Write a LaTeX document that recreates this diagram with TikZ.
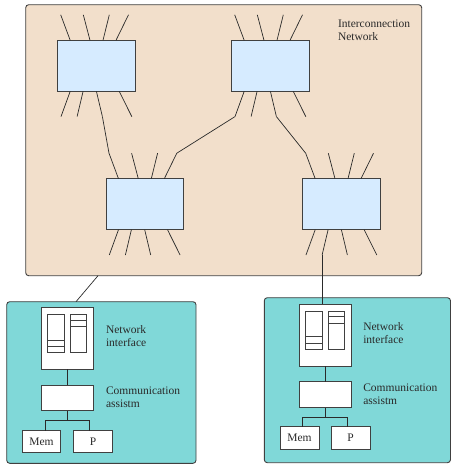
\documentclass[tikz,border=0pt]{standalone}
\usepackage{fontspec}
\setmainfont{Liberation Serif}
\definecolor{netfill}{HTML}{F2DFCB}
\definecolor{swfill}{HTML}{D6EBFF}
\definecolor{hostfill}{HTML}{80D8D8}
\definecolor{edge}{HTML}{404040}
\definecolor{ink}{HTML}{2A2A2A}
\begin{document}
\begin{tikzpicture}[x=1pt,y=-1pt,
  every node/.style={inner sep=0pt,outer sep=0pt,font=\fontsize{11.5}{13}\selectfont,text=ink},
  netbox/.style={draw=edge,line width=0.9pt,fill=netfill,rounded corners=3pt,anchor=north west},
  hostbox/.style={draw=edge,line width=0.9pt,fill=hostfill,rounded corners=3pt,anchor=north west},
  swbox/.style={draw=edge,line width=0.9pt,fill=swfill,anchor=north west,minimum width=77.3pt,minimum height=51pt},
  wbox/.style={draw=edge,line width=0.8pt,fill=white,anchor=north west},
  lbl/.style={anchor=base west,align=left},
  wire/.style={draw=ink,line width=0.7pt},
  col/.style={draw=edge,line width=0.9pt}]
\useasboundingbox (0,0) rectangle (452,464);
% interconnection network
\node[netbox,minimum width=396pt,minimum height=271pt] (net) at (25.7,4.7) {};
\node[lbl] (netlbl) at (338,40) {Interconnection\\Network};
\node[swbox] (sw1) at (57.7,40.3) {};
\node[swbox] (sw2) at (231.7,40.3) {};
\node[swbox] (sw3) at (106,178.7) {};
\node[swbox] (sw4) at (302.7,178.7) {};
\foreach \s in {sw1,sw2,sw3,sw4}{
  \foreach \a/\d [count=\i] in {12.5/-9.5,32.3/-6.7,45.3/6.3,58.3/12.5}{
    \draw[wire] ([xshift=\a pt]\s.north west) -- ++(\d,-25.5) coordinate (\s-t\i);
  }
  \foreach \a/\d [count=\i] in {12.5/-9.2,25.4/-6,38.7/6,61.5/12.6}{
    \draw[wire] ([xshift=\a pt]\s.south west) -- ++(\d,25.3) coordinate (\s-b\i);
  }
}
\draw[wire] (sw1-b3) -- (sw3-t1);
\draw[wire] (sw2-b1) -- (sw3-t4);
\draw[wire] (sw2-b3) -- (sw4-t1);
% hosts
\node[hostbox,minimum width=189.3pt,minimum height=161.6pt] (hostL) at (6.7,301.7) {};
\node[hostbox,minimum width=186.2pt,minimum height=165pt] (hostR) at (264.3,297.7) {};
\draw[wire] ([xshift=72.3pt]net.south west) -- ([xshift=69.3pt]hostL.north west);
% left host
\node[wbox,minimum width=51.6pt,minimum height=61.6pt] (niL) at (41.7,307.7) {};
\node[wbox,minimum width=51.6pt,minimum height=25.7pt] (caL) at (41.7,385) {};
\node[wbox,minimum width=38.4pt,minimum height=22pt] (memL) at (22.3,430.7) {};
\node[wbox,minimum width=39.4pt,minimum height=22pt] (pL) at (73.3,430.7) {};
\node at (memL.center) {Mem};
\node at (pL.center) {P};
\node[lbl] (niLlbl) at (106,346.5) {Network\\interface};
\node[lbl] (caLlbl) at (106,407.7) {Communication\\assistm};
\draw[wire] (niL.south) -- (caL.north);
\draw[wire] (caL.south) -- ++(0,10) coordinate (jL);
\draw[wire] ([xshift=3.5pt]memL.north) |- (jL) -| ([xshift=-3.3pt]pL.north);
\begin{scope}[shift={(niL.north west)}]
  \draw[col] (6,6.6) rectangle (22.3,45);
  \draw[col] (6,32.3) -- (22.3,32.3) (6,38.3) -- (22.3,38.3);
  \draw[col] (28.6,6.6) rectangle (45,45);
  \draw[col] (28.6,12.3) -- (45,12.3) (28.6,19) -- (45,19);
\end{scope}
% right host
\node[wbox,minimum width=51.7pt,minimum height=61.7pt] (niR) at (299.3,304.3) {};
\node[wbox,minimum width=51.7pt,minimum height=26pt] (caR) at (299.3,381.7) {};
\node[wbox,minimum width=39pt,minimum height=22.6pt] (memR) at (280,426.7) {};
\node[wbox,minimum width=39pt,minimum height=22.6pt] (pR) at (331,426.7) {};
\node at (memR.center) {Mem};
\node at (pR.center) {P};
\node[lbl] (niRlbl) at (363.3,343.3) {Network\\interface};
\node[lbl] (caRlbl) at (363.3,404.7) {Communication\\assistm};
\draw[wire] (sw4-b2) -- (sw4-b2 |- niR.north);
\draw[wire] (niR.south) -- (caR.north);
\draw[wire] (caR.south) -- ++(0,9.6) coordinate (jR);
\draw[wire] ([xshift=3.2pt]memR.north) |- (jR) -| ([xshift=-2.8pt]pR.north);
\begin{scope}[shift={(niR.north west)}]
  \draw[col] (6.4,6.7) rectangle (22.7,45);
  \draw[col] (6.4,32.4) -- (22.7,32.4) (6.4,39) -- (22.7,39);
  \draw[col] (29,6.7) rectangle (45,45);
  \draw[col] (29,12.4) -- (45,12.4) (29,19) -- (45,19);
\end{scope}
\end{tikzpicture}
\end{document}
